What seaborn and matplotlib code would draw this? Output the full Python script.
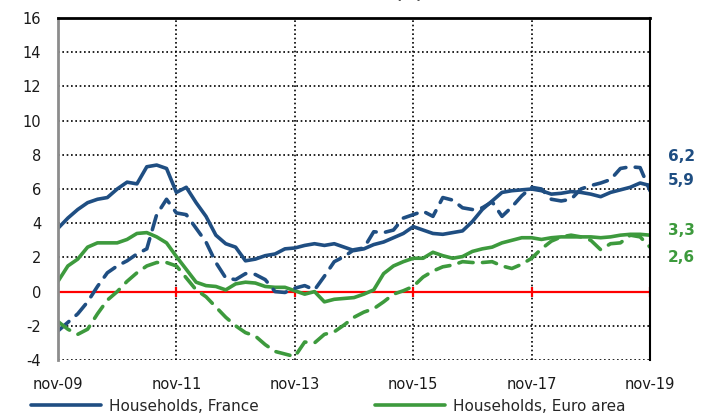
import numpy as np
import pandas as pd
import seaborn as sns
import matplotlib.pyplot as plt
import matplotlib.transforms as mtransforms

# months since nov-09, every second month
months = list(range(0, 121, 2))

hh_france = [3.7, 4.3, 4.8, 5.2, 5.4, 5.5, 6.0, 6.4, 6.3, 7.3, 7.4, 7.2, 5.8, 6.1, 5.2,
             4.4, 3.3, 2.8, 2.6, 1.8, 1.9, 2.1, 2.2, 2.5, 2.55, 2.7, 2.8, 2.7, 2.8, 2.6,
             2.4, 2.5, 2.75, 2.9, 3.15, 3.4, 3.8, 3.6, 3.4, 3.35, 3.45, 3.55, 4.1, 4.8,
             5.3, 5.8, 5.9, 5.95, 6.0, 5.9, 5.7, 5.75, 5.85, 5.8, 5.7, 5.55, 5.8, 5.95,
             6.1, 6.35, 6.2]
hh_euro = [0.6, 1.5, 1.9, 2.6, 2.85, 2.85, 2.85, 3.05, 3.4, 3.45, 3.2, 2.85, 2.05, 1.3,
           0.55, 0.35, 0.3, 0.1, 0.45, 0.55, 0.5, 0.3, 0.25, 0.25, 0.05, -0.15, 0.0,
           -0.6, -0.45, -0.4, -0.35, -0.15, 0.1, 1.05, 1.5, 1.75, 1.95, 1.95, 2.3, 2.1,
           1.95, 2.05, 2.35, 2.5, 2.6, 2.85, 3.0, 3.15, 3.15, 3.05, 3.15, 3.2, 3.2, 3.2,
           3.2, 3.15, 3.2, 3.3, 3.35, 3.35, 3.3]
nfc_france = [-2.3, -1.8, -1.3, -0.6, 0.3, 1.1, 1.5, 1.8, 2.2, 2.5, 4.5, 5.4, 4.6, 4.5,
              3.7, 2.9, 1.7, 0.8, 0.7, 1.05, 1.0, 0.7, 0.0, -0.05, 0.2, 0.35, 0.1, 0.9,
              1.75, 2.05, 2.45, 2.55, 3.5, 3.45, 3.6, 4.3, 4.5, 4.7, 4.4, 5.5, 5.35, 4.9,
              4.8, 4.9, 5.25, 4.4, 4.95, 5.6, 6.1, 6.0, 5.4, 5.3, 5.4, 6.0, 6.2, 6.35,
              6.55, 7.2, 7.3, 7.25, 5.9]
nfc_euro = [-1.75, -2.2, -2.5, -2.2, -1.3, -0.5, 0.0, 0.6, 1.1, 1.5, 1.7, 1.7, 1.5, 0.8,
            0.1, -0.3, -0.9, -1.5, -2.0, -2.4, -2.6, -3.1, -3.5, -3.65, -3.8, -2.95,
            -3.0, -2.5, -2.35, -1.95, -1.5, -1.2, -1.0, -0.6, -0.15, 0.05, 0.3, 0.85,
            1.2, 1.45, 1.55, 1.75, 1.7, 1.7, 1.75, 1.5, 1.35, 1.6, 1.95, 2.5, 2.95,
            3.2, 3.3, 3.2, 3.0, 2.45, 2.8, 2.85, 3.3, 3.2, 2.6]

tick_months = [0, 24, 48, 72, 96, 120]
tick_labels = ["nov-09", "nov-11", "nov-13", "nov-15", "nov-17", "nov-19"]
end_labels = ["6,2", "5,9", "3,3", "2,6"]

blue = "#1f4e82"
green = "#3d9a3d"

df = pd.DataFrame({"month": months, "hh_fr": hh_france, "hh_ea": hh_euro,
                   "nfc_fr": nfc_france, "nfc_ea": nfc_euro})

sns.set_style("white")
plt.rcParams["font.family"] = ["DejaVu Sans"]
plt.rcParams["axes.unicode_minus"] = False

fig = plt.figure(figsize=(7.02, 4.17), dpi=100)
ax = fig.add_axes([58 / 702, 1 - 360 / 417, 592 / 702, 342 / 417])

sns.lineplot(data=df, x="month", y="hh_fr", color=blue, lw=2.6, ax=ax,
             label="Households, France")
sns.lineplot(data=df, x="month", y="hh_ea", color=green, lw=2.6, ax=ax,
             label="Households, Euro area")
sns.lineplot(data=df, x="month", y="nfc_fr", color=blue, lw=2.6, ax=ax)
sns.lineplot(data=df, x="month", y="nfc_ea", color=green, lw=2.6, ax=ax)
for ln in ax.lines[2:4]:
    ln.set_dashes((4, 2.6))
    ln.set_dash_capstyle("round")

ax.axhline(0, color="red", lw=1.6, zorder=1)
ax.plot(tick_months, [0] * len(tick_months), ls="none", marker="|",
        ms=7, mew=1.6, color="red", zorder=1)

ax.set_xlim(0, 120)
ax.set_ylim(-4, 16)
ax.set_yticks(range(-4, 17, 2))
ax.set_xticks(tick_months)
ax.set_xticklabels(tick_labels)
ax.set_xlabel("")
ax.set_ylabel("")
ax.tick_params(axis="both", length=0, labelsize=10.5, colors="#1a1a1a")
ax.tick_params(axis="y", pad=12)
ax.tick_params(axis="x", pad=12)
ax.grid(True, color="black", ls=(0, (1, 1.6)), lw=1.2)
ax.set_axisbelow(True)

ax.spines["top"].set_color("black")
ax.spines["top"].set_linewidth(2)
ax.spines["right"].set_color("black")
ax.spines["right"].set_linewidth(1.5)
ax.spines["left"].set_color("#8c8c8c")
ax.spines["left"].set_linewidth(2)
ax.spines["bottom"].set_visible(False)

trans = mtransforms.blended_transform_factory(ax.transAxes, ax.transData)
for lab, yv, col in zip(end_labels, [7.9, 6.5, 3.6, 2.0], [blue, blue, green, green]):
    ax.text(1.03, yv, lab, transform=trans, color=col, fontsize=11,
            fontweight="bold", va="center", ha="left")

leg = ax.legend(loc="upper left", bbox_to_anchor=(-0.056, -0.095), ncol=2,
                frameon=False, fontsize=11, handlelength=4.6, columnspacing=7.6,
                borderaxespad=0, handletextpad=0.5)

fig.text(355 / 702, 1 + 1 / 417, "Growth rates (%)", ha="center", va="baseline",
         fontsize=10, fontweight="bold", color="#555555")

fig.savefig("out.png", dpi=100)
